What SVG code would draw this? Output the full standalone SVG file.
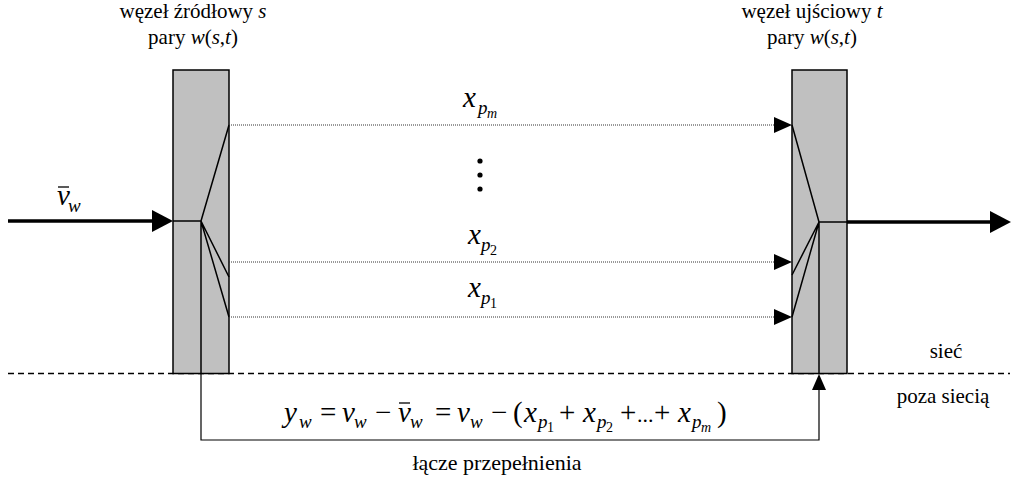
<svg xmlns="http://www.w3.org/2000/svg" width="1015" height="479" viewBox="0 0 1015 479" font-family="'Liberation Serif', 'Times New Roman', 'DejaVu Serif', serif">
<style>
text, tspan { font-family: 'Liberation Serif', 'Times New Roman', 'DejaVu Serif', serif; }
.lbl{font-size:21px}
.m{font-size:29px;font-style:italic}
.r{font-size:29px;font-style:normal}
.s{font-size:19px;font-style:italic}
.ss{font-size:14px;font-style:normal}
.ssi{font-size:14px;font-style:italic}
.box{fill:#c0c0c0;stroke:#000;stroke-width:1.5}
.thin{fill:none;stroke:#000;stroke-width:1.5}
.dot{fill:none;stroke:#333;stroke-width:1;stroke-dasharray:1 1}
.thick{fill:none;stroke:#000;stroke-width:3.5}
.dash{fill:none;stroke:#000;stroke-width:1.5;stroke-dasharray:6 4}
</style>
<defs>
<marker id="big" markerUnits="userSpaceOnUse" markerWidth="22" markerHeight="22" refX="3" refY="11" orient="auto"><path d="M0,0 L21,11 L0,22 z" fill="#000"/></marker>
<marker id="small" markerUnits="userSpaceOnUse" markerWidth="18" markerHeight="16" refX="2" refY="8" orient="auto"><path d="M0,0 L18,8 L0,16 z" fill="#000"/></marker>
<marker id="up" markerUnits="userSpaceOnUse" markerWidth="16" markerHeight="14" refX="2" refY="7" orient="auto"><path d="M0,0 L16,7 L0,14 z" fill="#000"/></marker>
</defs>

<line class="dash" x1="8" y1="373.5" x2="1010" y2="373.5"/>

<g id="source">
<rect class="box" x="173" y="70" width="56" height="303.5"/>
<path class="thin" d="M173,221 L201,221 L201,373.5 M201,221 L229,125 M201,221 L229,277 M201,221 L229,317"/>
<text class="lbl" x="193" y="18" text-anchor="middle">węzeł źródłowy <tspan font-style="italic">s</tspan></text>
<text class="lbl" x="193" y="44" text-anchor="middle">pary <tspan font-style="italic">w</tspan>(<tspan font-style="italic">s</tspan>,<tspan font-style="italic">t</tspan>)</text>
</g>

<g id="sink">
<rect class="box" x="792" y="70" width="55" height="303.5"/>
<path class="thin" d="M847,222 L819,222 L819,373.5 M819,222 L792,125 M819,222 L792,275 M819,222 L792,317"/>
<text class="lbl" x="812" y="18" text-anchor="middle">węzeł ujściowy <tspan font-style="italic">t</tspan></text>
<text class="lbl" x="812" y="44" text-anchor="middle">pary <tspan font-style="italic">w</tspan>(<tspan font-style="italic">s</tspan>,<tspan font-style="italic">t</tspan>)</text>
</g>

<g id="connectors">
<line class="thick" x1="8" y1="221" x2="155" y2="221" marker-end="url(#big)"/>
<line class="thick" x1="847" y1="222" x2="993" y2="222" marker-end="url(#big)"/>
<line class="dot" x1="229" y1="125" x2="776" y2="125" marker-end="url(#small)"/>
<line class="dot" x1="229" y1="262" x2="776" y2="262" marker-end="url(#small)"/>
<line class="dot" x1="229" y1="317" x2="776" y2="317" marker-end="url(#small)"/>
<path d="M201,373.5 L201,440 L819,440 L819,388" fill="none" stroke="#000" stroke-width="1.2" marker-end="url(#up)"/>
</g>

<g id="ellipsis" fill="#000">
<circle cx="480" cy="161" r="2.6"/>
<circle cx="480" cy="175" r="2.6"/>
<circle cx="480" cy="189" r="2.6"/>
</g>

<g id="labels">
<text><tspan class="m" x="463" y="107">x</tspan><tspan class="s" x="478" y="114">p</tspan><tspan class="ssi" x="487" y="118">m</tspan></text>
<text><tspan class="m" x="468" y="244">x</tspan><tspan class="s" x="481" y="251">p</tspan><tspan class="ss" x="490" y="255">2</tspan></text>
<text><tspan class="m" x="468" y="297">x</tspan><tspan class="s" x="481" y="304">p</tspan><tspan class="ss" x="490" y="308">1</tspan></text>

<text><tspan class="m" x="57" y="205">v</tspan><tspan class="s" x="68" y="212">w</tspan></text>
<line x1="58" y1="187" x2="69" y2="187" stroke="#000" stroke-width="1.3"/>

<text class="lbl" x="946" y="358" text-anchor="middle">sieć</text>
<text class="lbl" x="943" y="403" text-anchor="middle">poza siecią</text>
<text class="lbl" x="497" y="470" text-anchor="middle" style="font-size:22px">łącze przepełnienia</text>

<text>
<tspan class="m" x="284" y="422">y</tspan><tspan class="s" x="299" y="428">w</tspan>
<tspan class="r" x="320" y="422">=</tspan>
<tspan class="m" x="342" y="422">v</tspan><tspan class="s" x="354" y="428">w</tspan>
<tspan class="r" x="375" y="422">−</tspan>
<tspan class="m" x="398" y="422">v</tspan><tspan class="s" x="410" y="428">w</tspan>
<tspan class="r" x="435" y="422">=</tspan>
<tspan class="m" x="457" y="422">v</tspan><tspan class="s" x="470" y="428">w</tspan>
<tspan class="r" x="491" y="422">−</tspan>
<tspan class="r" x="513" y="422">(</tspan>
<tspan class="m" x="524" y="422">x</tspan><tspan class="s" x="538" y="428">p</tspan><tspan class="ss" x="547" y="432">1</tspan>
<tspan class="r" x="559" y="422">+</tspan>
<tspan class="m" x="583" y="422">x</tspan><tspan class="s" x="597" y="428">p</tspan><tspan class="ss" x="606" y="432">2</tspan>
<tspan class="r" x="620" y="422">+</tspan>
<tspan class="r" x="637" y="422" style="font-size:22px">...</tspan>
<tspan class="r" x="654" y="422">+</tspan>
<tspan class="m" x="678" y="422">x</tspan><tspan class="s" x="692" y="428">p</tspan><tspan class="ssi" x="701" y="432">m</tspan>
<tspan class="r" x="717" y="422">)</tspan>
</text>
<line x1="399" y1="403" x2="410" y2="403" stroke="#000" stroke-width="1.3"/>
</g>
</svg>
